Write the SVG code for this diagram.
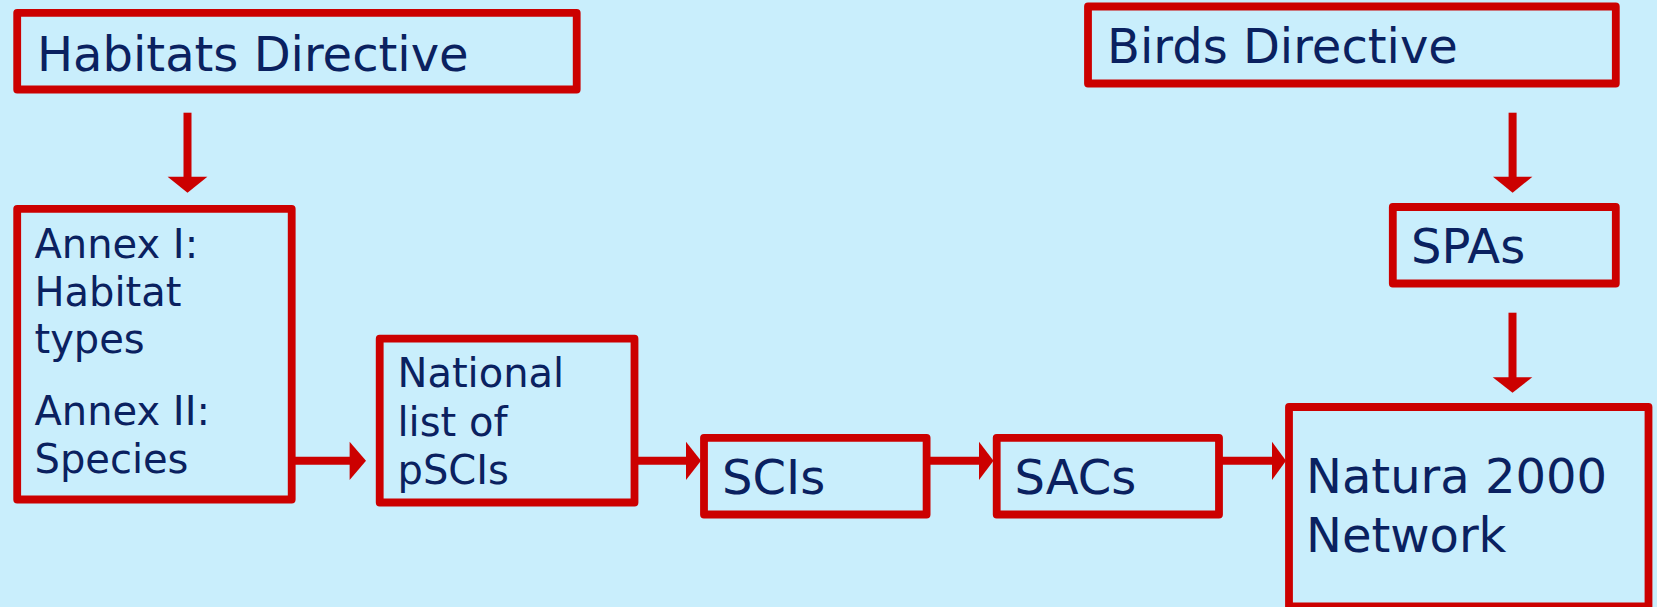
<svg xmlns="http://www.w3.org/2000/svg" width="1657" height="607" viewBox="0 0 1657 607">
  <style>
    .box { fill: #C9EEFC; stroke: #CC0000; stroke-width: 7.8; stroke-linejoin: round; }
    .lbl { font-family: "DejaVu Sans", Verdana, sans-serif; fill: #0A2160; }
    .big { font-size: 48px; }
    .mid { font-size: 40px; }
    .shaft { stroke: #CC0000; stroke-width: 8; fill: none; }
    .head { fill: #CC0000; }
  </style>
  <rect x="0" y="0" width="1657" height="607" fill="#C9EEFC"/>

  <g id="connectors">
    <!-- Habitats Directive -> Annexes -->
    <line class="shaft" x1="187.5" y1="112.7" x2="187.5" y2="178"/>
    <polygon class="head" points="167.6,176.7 207.4,176.7 187.5,192.7"/>
    <!-- Birds Directive -> SPAs -->
    <line class="shaft" x1="1512.6" y1="112.7" x2="1512.6" y2="178"/>
    <polygon class="head" points="1493,176.7 1532.4,176.7 1512.6,192.7"/>
    <!-- SPAs -> Natura 2000 -->
    <line class="shaft" x1="1512.5" y1="312.7" x2="1512.5" y2="378.5"/>
    <polygon class="head" points="1492.7,377.3 1532.3,377.3 1512.5,392.7"/>
    <!-- Annexes -> National list -->
    <line class="shaft" x1="295" y1="460.8" x2="351" y2="460.8"/>
    <polygon class="head" points="349.6,441.7 349.6,480 366,460.8"/>
    <!-- National list -> SCIs -->
    <line class="shaft" x1="637" y1="460.8" x2="687" y2="460.8"/>
    <polygon class="head" points="686,441.7 686,480 701,460.8"/>
    <!-- SCIs -> SACs -->
    <line class="shaft" x1="930" y1="460.8" x2="980" y2="460.8"/>
    <polygon class="head" points="979,441.7 979,480 993.5,460.8"/>
    <!-- SACs -> Natura 2000 -->
    <line class="shaft" x1="1222" y1="460.8" x2="1273" y2="460.8"/>
    <polygon class="head" points="1272,441.7 1272,480 1286,460.8"/>
  </g>

  <g id="habitats-directive">
    <rect class="box" x="17.2" y="12.8" width="559.5" height="76.7"/>
    <text class="lbl big" x="37" y="70.7">Habitats Directive</text>
  </g>

  <g id="annexes">
    <rect class="box" x="17.2" y="208.8" width="274.5" height="290.7"/>
    <text class="lbl mid" x="34.5">
      <tspan x="34.5" y="258">Annex I:</tspan>
      <tspan x="34.5" y="305.5">Habitat</tspan>
      <tspan x="34.5" y="353">types</tspan>
      <tspan x="34.5" y="425">Annex II:</tspan>
      <tspan x="34.5" y="473">Species</tspan>
    </text>
  </g>

  <g id="national-list">
    <rect class="box" x="379.7" y="338.7" width="254.8" height="163.8"/>
    <text class="lbl mid">
      <tspan x="397.5" y="387">National</tspan>
      <tspan x="397.5" y="436">list of</tspan>
      <tspan x="397.5" y="483.5">pSCIs</tspan>
    </text>
  </g>

  <g id="scis">
    <rect class="box" x="704" y="437.8" width="222.6" height="76.7"/>
    <text class="lbl big" x="722" y="494.3">SCIs</text>
  </g>

  <g id="sacs">
    <rect class="box" x="996.7" y="437.8" width="222.3" height="76.7"/>
    <text class="lbl big" x="1014.5" y="494.3">SACs</text>
  </g>

  <g id="birds-directive">
    <rect class="box" x="1088" y="6.5" width="527.8" height="77"/>
    <text class="lbl big" x="1107" y="63.3">Birds Directive</text>
  </g>

  <g id="spas">
    <rect class="box" x="1392.8" y="207" width="223" height="76.5"/>
    <text class="lbl big" x="1411" y="263.3">SPAs</text>
  </g>

  <g id="natura-2000">
    <rect class="box" x="1289" y="407" width="359.5" height="199.5"/>
    <text class="lbl big">
      <tspan x="1306" y="493.3">Natura 2000</tspan>
      <tspan x="1306" y="552">Network</tspan>
    </text>
  </g>
</svg>
